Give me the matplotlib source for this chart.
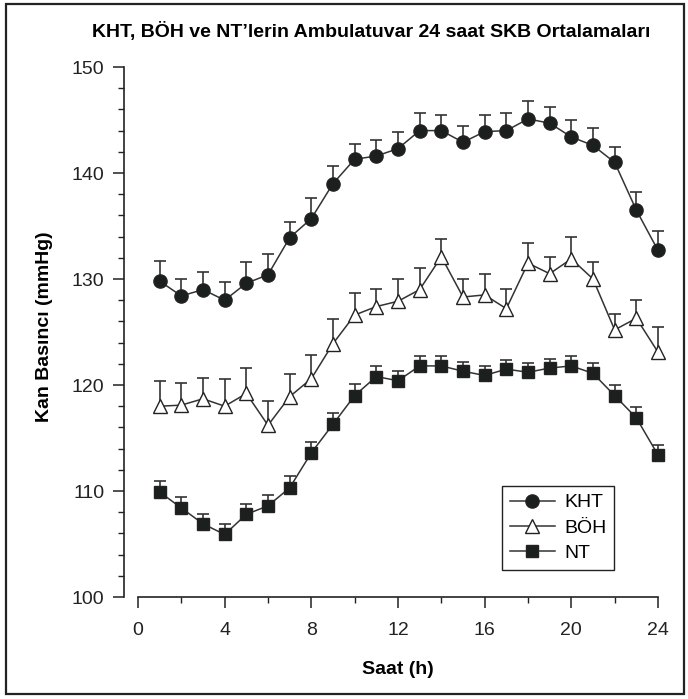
import numpy as np
import matplotlib
matplotlib.use("Agg")
import matplotlib.pyplot as plt
from matplotlib.patches import Rectangle

plt.rcParams['font.family'] = ['Liberation Sans', 'DejaVu Sans']

saat = np.arange(1, 25)

kht = [129.8, 128.4, 129.0, 128.0, 129.6, 130.4, 133.9, 135.7, 139.0, 141.3, 141.6, 142.3,
       144.0, 144.0, 142.9, 143.9, 144.0, 145.1, 144.7, 143.4, 142.6, 141.0, 136.5, 132.7]
kht_err = [1.9, 1.6, 1.7, 1.7, 2.0, 2.0, 1.5, 1.9, 1.7, 1.4, 1.5, 1.6,
           1.7, 1.5, 1.5, 1.6, 1.7, 1.7, 1.5, 1.6, 1.6, 1.5, 1.7, 1.8]

boh = [118.0, 118.1, 118.7, 118.0, 119.2, 116.2, 118.9, 120.6, 123.9, 126.6, 127.4, 127.9,
       129.0, 132.1, 128.3, 128.5, 127.2, 131.5, 130.5, 131.9, 130.0, 125.2, 126.3, 123.1]
boh_err = [2.4, 2.1, 2.0, 2.6, 2.4, 2.3, 2.1, 2.2, 2.3, 2.1, 1.7, 2.1,
           2.0, 1.7, 1.7, 2.0, 1.9, 1.9, 1.6, 2.1, 1.6, 1.5, 1.7, 2.4]

nt = [109.9, 108.4, 106.9, 105.9, 107.8, 108.6, 110.3, 113.6, 116.3, 119.0, 120.8, 120.4,
      121.8, 121.8, 121.3, 120.9, 121.5, 121.2, 121.6, 121.8, 121.1, 119.0, 116.9, 113.4]
nt_err = [1.0, 1.0, 0.9, 1.0, 1.0, 1.0, 1.1, 1.0, 1.1, 1.1, 1.0, 0.9,
          0.9, 0.9, 0.9, 0.9, 0.9, 0.9, 0.9, 0.9, 1.0, 1.0, 1.0, 0.9]

W, H = 688, 699
fig = plt.figure(figsize=(W / 100, H / 100), dpi=100)

# axes placed in pixels: y=100 at 597px, y=150 at 67px; x=0 at 138px, x=24 at 658px
xmin, xmax = -0.65, 24.6
ymin, ymax = 100, 151
px_x = (658 - 138) / 24
px_y = (597 - 67) / 50
left = 138 + xmin * px_x
width = (xmax - xmin) * px_x
bottom = H - 597
height = (ymax - ymin) * px_y
ax = fig.add_axes([left / W, bottom / H, width / W, height / H])

dark = '#1b1f1d'
line_c = '#333333'

series = [
    (kht, kht_err, 'o', dark, 9.5, 'KHT'),
    (boh, boh_err, '^', 'white', 10, 'BÖH'),
    (nt, nt_err, 's', dark, 8, 'NT'),
]
for vals, err, mk, fc, ms, lab in series:
    vals = np.array(vals)
    err = np.array(err)
    _, caps, _ = ax.errorbar(saat, vals, yerr=[np.zeros_like(err), err], fmt='none',
                             ecolor=line_c, elinewidth=1.2, capsize=4, capthick=1.2, zorder=2)
    caps[0].set_visible(False)
    ax.plot(saat, vals, color=line_c, lw=1.1, marker=mk, ms=ms, mfc=fc,
            mec='#222222', mew=1.0, label=lab, zorder=3)

ax.set_xlim(xmin, xmax)
ax.set_ylim(ymin, ymax)
ax.spines['top'].set_visible(False)
ax.spines['right'].set_visible(False)
ax.spines['left'].set_bounds(100, 150)
ax.spines['bottom'].set_bounds(0, 24)
for s in ['left', 'bottom']:
    ax.spines[s].set_linewidth(1.2)
    ax.spines[s].set_color('#222222')

ax.set_xticks(np.arange(0, 25, 4))
ax.set_xticks(np.arange(0, 25, 2), minor=True)
ax.set_yticks(np.arange(100, 151, 10))
ax.set_yticks(np.arange(100, 151, 2), minor=True)
ax.tick_params(which='major', length=8, width=1.1, labelsize=14, colors='#222222')
ax.tick_params(which='minor', length=4.5, width=1.0, colors='#222222')
ax.tick_params(axis='x', which='major', pad=10)
ax.tick_params(axis='y', which='major', pad=6)

ax.set_xlabel('Saat (h)', fontsize=14, fontweight='bold')
ax.set_ylabel('Kan Basıncı (mmHg)', fontsize=14, fontweight='bold')
ax.xaxis.set_label_coords((398 - left) / width, -(661 - 597) / height)
ax.yaxis.set_label_coords((53 - left) / width, 0.5)

fig.text(371 / W, 1 - 31 / H, 'KHT, BÖH ve NT’lerin Ambulatuvar 24 saat SKB Ortalamaları',
         ha='center', va='center', fontsize=14, fontweight='bold')

leg = ax.legend(loc='upper left', bbox_to_anchor=(502 / W, 1 - 486 / H),
                bbox_transform=fig.transFigure, borderaxespad=0, fontsize=14,
                fancybox=False, edgecolor='#222222', framealpha=1,
                handlelength=2.3, handletextpad=0.5, labelspacing=0.4, borderpad=0.4)
leg.get_frame().set_linewidth(1.0)

fig.patches.append(Rectangle((6 / W, 5 / H), 678 / W, 690 / H, transform=fig.transFigure,
                             fill=False, lw=1.6, edgecolor='#222222'))

fig.savefig('out.png', dpi=100)
